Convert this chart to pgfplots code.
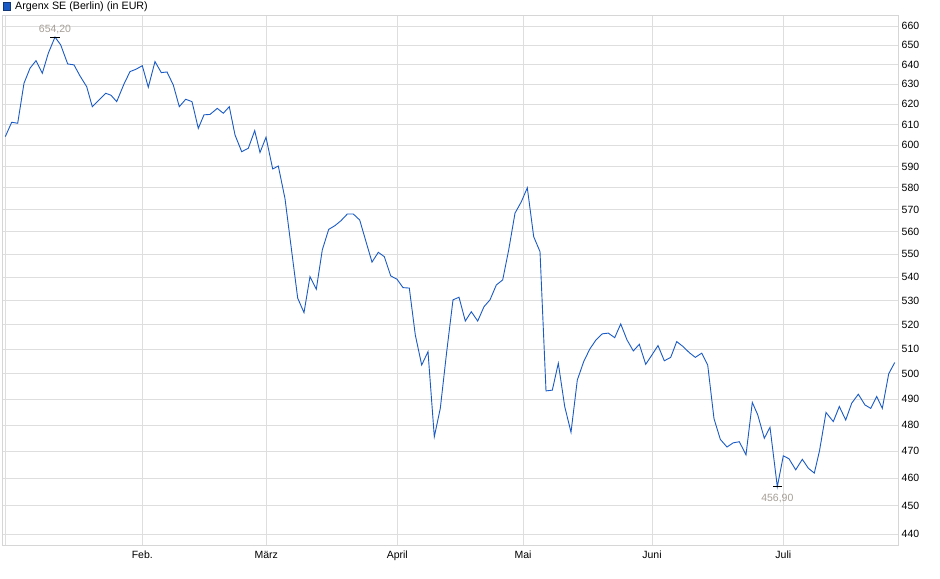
\documentclass[border=0pt]{standalone}
\usepackage{fontspec}
\setmainfont{Liberation Sans}
\usepackage{pgfplots}
\usepackage{pgfplotstable}
\pgfplotsset{compat=1.18}
\definecolor{lineblue}{RGB}{26,90,196}
\definecolor{gridgray}{RGB}{222,222,222}
\definecolor{bordergray}{RGB}{214,214,214}
\definecolor{annot}{RGB}{165,158,150}
\pgfplotstableread{
x v
5.3 604.2
11.7 611.2
17.7 610.7
24 630.5
30 638.1
36 642.0
42.3 635.5
48.3 645.8
55 654.2
60.7 650.1
67.7 640.3
74 639.8
80 634.2
86.7 628.8
92.3 618.8
99 622.1
105.7 625.5
111 624.5
116.7 621.3
124 630.1
130 636.4
136 637.6
142.3 639.4
148.3 628.5
155 641.5
161.3 635.9
167 636.2
173.3 629.6
179.3 618.8
185.7 622.5
192 621.3
198.3 608.2
204 614.8
210 615.0
217.3 618.0
223.3 615.6
229.3 618.8
235 605.0
241.7 597.0
248.3 598.6
254.7 607.1
260 596.6
266 603.9
272.7 588.8
278.3 590.2
285 575.0
291.3 552.7
297.7 531.1
304 525.0
310 540.3
316.3 534.9
322.3 552.0
328.7 561.1
335 562.8
341 565.0
347.3 568.0
353.3 568.0
359.7 565.3
366 555.6
372 546.6
378.3 550.9
384.3 549.0
390.7 540.6
397 539.2
403 535.6
409.3 535.4
415.3 515.7
421.7 503.5
428 508.9
434.3 475.5
440.3 486.4
446.7 508.9
453 530.4
459 531.5
465.3 521.5
471.3 525.4
477.7 521.5
484 527.5
490 530.4
496.3 536.7
502.7 538.9
508.7 552.0
515 568.4
521.3 573.6
527.3 580.0
533.7 557.8
540 551.2
546 493.2
552.3 493.5
558.3 504.2
564.7 487.1
571 477.2
577.3 497.5
583.7 504.9
589.7 509.9
596 513.7
602.3 516.2
608.3 516.5
614.7 514.6
620.7 520.3
627 513.7
633.3 509.2
639.3 511.9
645.7 503.8
652 507.6
658 511.4
664.3 505.2
670.7 506.6
676.7 513.0
683 511.0
689.3 508.5
695.3 506.6
701.7 508.3
707.7 503.5
714 482.4
720.3 474.5
727 471.6
733.3 473.2
739.3 473.6
746 468.7
752.3 488.7
757.7 483.9
764.3 474.9
770 479.1
777.3 456.9
783.3 468.3
789 467.2
795.7 463.1
802.3 467.0
808.3 463.7
814.3 461.9
819.5 470.2
826 484.8
833.3 481.3
839.3 487.1
845.7 481.9
851.7 488.4
858.3 491.9
865 487.7
870.7 486.4
876.7 491.0
882.3 486.4
888.7 500.0
894.7 504.5
}\pricedata
\begin{document}
\begin{tikzpicture}
\useasboundingbox (0bp,0bp) rectangle (940bp,579bp);
\filldraw[fill=lineblue, draw=lineblue!60!black, line width=0.6bp] (3.3bp,569bp) rectangle (10.7bp,576.3bp);
\node[anchor=west, inner sep=0pt, font=\fontsize{10.7bp}{12bp}\selectfont] at (15bp,572.6bp) {Argenx SE (Berlin) (in EUR)};
\begin{axis}[
  at={(2.7bp,33.5bp)}, anchor=south west,
  scale only axis, width=895.3bp, height=529.5bp,
  xmin=2.7, xmax=898,
  ymode=log, ymin=436.0, ymax=665.3,
  axis line style={bordergray, line width=0.8bp},
  grid=major, major grid style={gridgray, line width=0.8bp},
  xtick={5.3,142.3,266.3,397.3,523,652,783.3},
  xticklabels={,Feb.,März,April,Mai,Juni,Juli},
  ytick={440,450,460,470,480,490,500,510,520,530,540,550,560,570,580,590,600,610,620,630,640,650,660},
  yticklabels={440,450,460,470,480,490,500,510,520,530,540,550,560,570,580,590,600,610,620,630,640,650,660},
  ytick pos=right, xtick pos=bottom, yticklabel pos=right,
  tick align=outside, major tick length=2.5bp,
  tick style={draw=none},
  tick label style={font=\fontsize{10.5bp}{12bp}\selectfont, text=black, inner sep=0pt},
  xticklabel style={anchor=north, yshift=-2.8bp},
  yticklabel style={anchor=west, xshift=1bp},
  clip=false,
]
\addplot[lineblue, line width=0.9bp, mark=none] table[x=x, y=v] {\pricedata};
\addplot[only marks, mark=-, mark size=4.7bp, mark options={black, line width=0.9bp},
  nodes near coords={654{,}20},
  nodes near coords style={annot, font=\fontsize{10.5bp}{12bp}\selectfont, anchor=base, inner sep=0pt, yshift=5bp}]
  coordinates {(55,654.2)};
\addplot[only marks, mark=-, mark size=4.7bp, mark options={black, line width=0.9bp},
  nodes near coords={456{,}90},
  nodes near coords style={annot, font=\fontsize{10.5bp}{12bp}\selectfont, anchor=base, inner sep=0pt, yshift=-14.3bp}]
  coordinates {(777.3,456.9)};
\end{axis}
\end{tikzpicture}
\end{document}
